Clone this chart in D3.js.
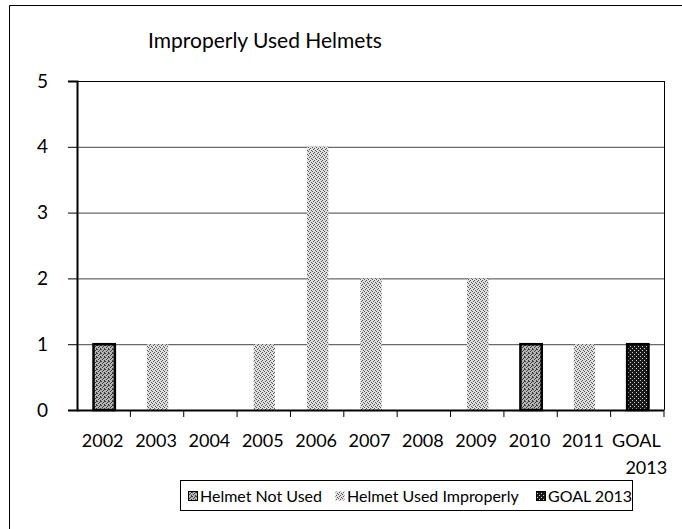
<!DOCTYPE html>
<html>
<head>
<meta charset="utf-8">
<script src="https://cdnjs.cloudflare.com/ajax/libs/d3/7.8.5/d3.min.js"></script>
<style>
  body { margin: 0; background: #fff; }
  text { font-family: Lato, "Open Sans", sans-serif; fill: #000; }
</style>
</head>
<body>
<div id="chart"></div>
<script>
// chart data
var categories = ["2002", "2003", "2004", "2005", "2006", "2007", "2008", "2009", "2010", "2011", "GOAL 2013"];
var helmetNotUsed = [1, 0, 0, 0, 0, 0, 0, 0, 1, 0, 0];
var helmetUsedImproperly = [0, 1, 0, 1, 4, 2, 0, 2, 0, 1, 0];
var goal2013 = [0, 0, 0, 0, 0, 0, 0, 0, 0, 0, 1];
var seriesNames = ["Helmet Not Used", "Helmet Used Improperly", "GOAL 2013"];
var yTicks = [0, 1, 2, 3, 4, 5];

var W = 682, H = 529;
var margin = {top: 81, right: 18, bottom: 119, left: 77};
var width = W - margin.left - margin.right;
var height = H - margin.top - margin.bottom;

var svg = d3.select("#chart").append("svg")
    .attr("width", W)
    .attr("height", H);

// dither-like fills
var defs = svg.append("defs");
function makePattern(id, bg, dot, cells) {
    var p = defs.append("pattern")
        .attr("id", id)
        .attr("patternUnits", "userSpaceOnUse")
        .attr("width", 4).attr("height", 4);
    p.append("rect").attr("width", 4).attr("height", 4).attr("fill", bg);
    cells.forEach(function(c) {
        p.append("rect").attr("x", c[0]).attr("y", c[1])
            .attr("width", 1).attr("height", 1).attr("fill", dot);
    });
}
makePattern("pNotUsed", "#b4b4b4", "#3a3a3a", [[0, 0], [2, 1], [1, 2], [3, 3], [3, 0]]);
makePattern("pImproper", "#e0e0e0", "#555", [[0, 0], [2, 1], [1, 3], [3, 2]]);
makePattern("pGoal", "#1a1a1a", "#cfcfcf", [[1, 1], [3, 3]]);
var fills = ["url(#pNotUsed)", "url(#pImproper)", "url(#pGoal)"];
var strokes = ["#000", "none", "#000"];

// outer chart border
svg.append("path")
    .attr("d", "M9.5," + (H + 2) + "V5.5H" + (W + 2))
    .attr("fill", "none").attr("stroke", "#000").attr("stroke-width", 1);

svg.append("text")
    .attr("x", 265).attr("y", 48)
    .attr("text-anchor", "middle")
    .style("font-size", "21px")
    .text("Improperly Used Helmets");

var g = svg.append("g")
    .attr("transform", "translate(" + margin.left + "," + margin.top + ")");

var x = d3.scaleBand().domain(categories).range([0, width]).paddingInner(0.6).paddingOuter(0.3);
var xb = d3.scaleBand().domain(categories).range([0, width]);
var y = d3.scaleLinear().domain([0, 5]).range([height, 0]);

// gridlines
g.selectAll(".grid")
    .data(yTicks.slice(1))
    .enter().append("line")
    .attr("x1", 0).attr("x2", width)
    .attr("y1", function(d) { return y(d) + 0.5; })
    .attr("y2", function(d) { return y(d) + 0.5; })
    .attr("stroke", function(d) { return d === 5 ? "#000" : "#444"; })
    .attr("stroke-width", 1);

// plot area right border
g.append("line")
    .attr("x1", width + 0.5).attr("x2", width + 0.5)
    .attr("y1", 0).attr("y2", height)
    .attr("stroke", "#000");

// stacked bars
var rows = categories.map(function(c, i) {
    return {cat: c, a: helmetNotUsed[i], b: helmetUsedImproperly[i], c: goal2013[i]};
});
var stack = d3.stack().keys(["a", "b", "c"])(rows);

g.selectAll(".series")
    .data(stack)
    .enter().append("g")
    .attr("class", "series")
    .each(function(s, si) {
        d3.select(this).selectAll("rect")
            .data(s.filter(function(d) { return d[1] - d[0] > 0; }))
            .enter().append("rect")
            .attr("x", function(d) { return x(d.data.cat) + 0.5; })
            .attr("y", function(d) { return y(d[1]); })
            .attr("width", x.bandwidth())
            .attr("height", function(d) { return y(d[0]) - y(d[1]); })
            .attr("fill", fills[si])
            .attr("stroke", strokes[si])
            .attr("stroke-width", 2.5);
    });

// y axis
var yAxis = g.append("g")
    .call(d3.axisLeft(y).tickValues(yTicks).tickFormat(d3.format("d")).tickSize(9).tickPadding(20));
yAxis.select(".domain").attr("stroke-width", 2);
yAxis.selectAll("text").style("font-size", "19px");

// x axis
var xAxis = g.append("g")
    .attr("transform", "translate(0," + height + ")");
xAxis.append("line")
    .attr("x1", 0).attr("x2", width).attr("y1", 0.5).attr("y2", 0.5)
    .attr("stroke", "#000").attr("stroke-width", 2);
xAxis.selectAll(".tk")
    .data(categories)
    .enter().append("line")
    .attr("x1", function(d) { return xb(d) + xb.bandwidth(); })
    .attr("x2", function(d) { return xb(d) + xb.bandwidth(); })
    .attr("y1", 0).attr("y2", 7)
    .attr("stroke", "#000");
xAxis.selectAll(".lbl")
    .data(categories)
    .enter().append("text")
    .attr("text-anchor", "middle")
    .style("font-size", "18px")
    .each(function(d) {
        var t = d3.select(this);
        var cx = xb(d) + xb.bandwidth() / 2;
        var parts = d.split(" ");
        t.append("tspan").attr("x", cx - 1).attr("y", 37).text(parts[0]);
        if (parts[1]) t.append("tspan").attr("x", cx + 9).attr("y", 64).text(parts[1]);
    });

// legend
var legend = svg.append("g").attr("transform", "translate(180,480)");
legend.append("rect")
    .attr("x", 0.5).attr("y", 0.5).attr("width", 452).attr("height", 30)
    .attr("fill", "none").attr("stroke", "#000");
var legX = [8, 155, 356];
seriesNames.forEach(function(name, i) {
    var it = legend.append("g").attr("transform", "translate(" + legX[i] + ",0)");
    it.append("rect")
        .attr("x", 0.5).attr("y", 11.5).attr("width", 9).attr("height", 9)
        .attr("fill", fills[i])
        .attr("stroke", i === 1 ? "none" : "#000");
    it.append("text")
        .attr("x", 12).attr("y", 22)
        .style("font-size", "16px")
        .text(name);
});
</script>
</body>
</html>
